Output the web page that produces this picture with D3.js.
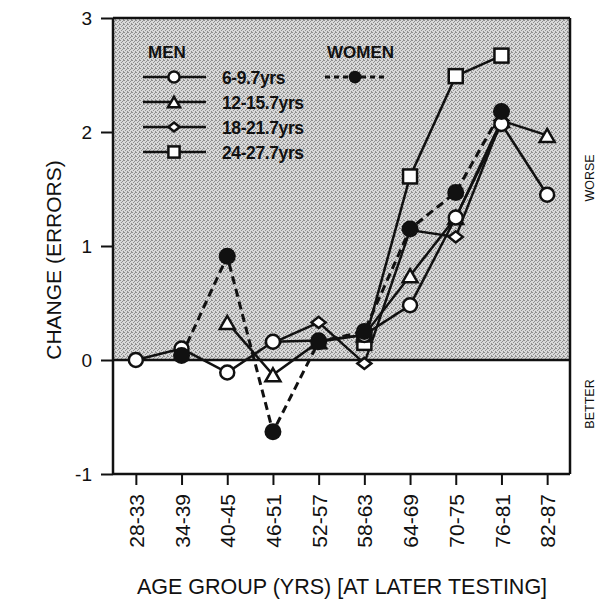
<!DOCTYPE html>
<html>
<head>
<meta charset="utf-8">
<script src="https://cdn.jsdelivr.net/npm/d3@7"></script>
<style>
  body { margin: 0; background: #fff; }
  text { font-family: "Liberation Sans", Arial, Helvetica, sans-serif; fill: #111; }
</style>
</head>
<body>
<div id="chart"></div>
<script>
const width = 599;
const height = 600;

// Data
const ageGroups = ["28-33", "34-39", "40-45", "46-51", "52-57", "58-63", "64-69", "70-75", "76-81", "82-87"];
const men6  = [0, 0.1, -0.11, 0.16, 0.17, 0.22, 0.48, 1.25, 2.07, 1.45];
const men12 = [null, null, 0.33, -0.13, 0.16, 0.22, 0.74, 1.25, 2.1, 1.97];
const men18 = [null, null, null, 0.15, 0.33, -0.03, 1.14, 1.08, 2.1, null];
const men24 = [null, null, null, null, null, 0.15, 1.61, 2.49, 2.67, null];
const women = [null, 0.04, 0.91, -0.63, 0.16, 0.25, 1.15, 1.47, 2.18, null];
const yTicks = [-1, 0, 1, 2, 3];

const seriesNames = ["6-9.7yrs", "12-15.7yrs", "18-21.7yrs", "24-27.7yrs"];
const series = [
    { key: "men24", name: seriesNames[3], values: men24, shape: "square" },
    { key: "men18", name: seriesNames[2], values: men18, shape: "diamond" },
    { key: "men12", name: seriesNames[1], values: men12, shape: "triangle" },
    { key: "men6",  name: seriesNames[0], values: men6,  shape: "circle" },
    { key: "women", name: "WOMEN",        values: women, shape: "dot", dashed: true },
];

const plotLeft = 113, plotRight = 570, plotTop = 18, plotBottom = 474;

const x = d3.scalePoint().domain(ageGroups).range([plotLeft, plotRight]).padding(0.5);
const y = d3.scaleLinear().domain([-1, 3]).range([plotBottom, plotTop]);

const svg = d3.create("svg")
    .attr("width", width)
    .attr("height", height);

// halftone-ish grey pattern for the "worse" region
const defs = svg.append("defs");
const pat = defs.append("pattern")
    .attr("id", "grain")
    .attr("width", 4).attr("height", 4)
    .attr("patternUnits", "userSpaceOnUse");
pat.append("rect").attr("width", 4).attr("height", 4).attr("fill", "#d9d9d9");
[[0, 0], [2, 1], [1, 2], [3, 3], [3, 0]].forEach(([px, py]) => {
    pat.append("rect").attr("x", px).attr("y", py).attr("width", 1).attr("height", 1).attr("fill", "#909090");
});

svg.append("rect")
    .attr("x", plotLeft).attr("y", y(3))
    .attr("width", plotRight - plotLeft).attr("height", y(0) - y(3))
    .attr("fill", "url(#grain)");

// frame
const frame = svg.append("g").attr("stroke", "#111").attr("stroke-width", 2.5).attr("fill", "none");
frame.append("line").attr("x1", plotLeft).attr("x2", plotRight).attr("y1", y(3)).attr("y2", y(3));
frame.append("line").attr("x1", plotRight).attr("x2", plotRight).attr("y1", y(3)).attr("y2", plotBottom);
frame.append("line").attr("x1", plotLeft).attr("x2", plotRight).attr("y1", y(0)).attr("y2", y(0));

// y axis
const yAxis = svg.append("g")
    .attr("transform", `translate(${plotLeft},0)`)
    .call(d3.axisLeft(y).tickValues(yTicks).tickSize(12).tickPadding(9).tickFormat(d => String(d)));
yAxis.select(".domain").attr("stroke", "#111").attr("stroke-width", 2.5)
    .attr("d", `M0,${plotTop}V${plotBottom}`);
yAxis.selectAll(".tick line").attr("stroke", "#111").attr("stroke-width", 2);
yAxis.selectAll(".tick text")
    .attr("font-size", 19)
    .attr("font-family", "'Liberation Sans', Arial, sans-serif")
    .attr("fill", "#111");

// x axis
const xAxis = svg.append("g")
    .attr("transform", `translate(0,${plotBottom})`)
    .call(d3.axisBottom(x).tickSize(11).tickSizeOuter(0));
xAxis.select(".domain").attr("stroke", "#111").attr("stroke-width", 2.5)
    .attr("d", `M${plotLeft},0H${plotRight}`);
xAxis.selectAll(".tick line").attr("stroke", "#111").attr("stroke-width", 2);
xAxis.selectAll(".tick text")
    .attr("font-size", 21)
    .attr("font-family", "'Liberation Sans', Arial, sans-serif")
    .attr("fill", "#111")
    .attr("transform", "rotate(-90)")
    .attr("text-anchor", "end")
    .attr("x", -20)
    .attr("y", 0)
    .attr("dy", "0.36em");

// axis titles
svg.append("text")
    .attr("transform", "translate(61,260) rotate(-90)")
    .attr("text-anchor", "middle")
    .attr("font-size", 21)
    .text("CHANGE (ERRORS)");

svg.append("text")
    .attr("x", 342).attr("y", 594)
    .attr("text-anchor", "middle")
    .attr("font-size", 21.5)
    .text("AGE GROUP (YRS) [AT LATER TESTING]");

svg.append("text")
    .attr("transform", "translate(594,178) rotate(-90)")
    .attr("text-anchor", "middle")
    .attr("font-size", 12.5)
    .text("WORSE");

svg.append("text")
    .attr("transform", "translate(594,404) rotate(-90)")
    .attr("text-anchor", "middle")
    .attr("font-size", 12.5)
    .text("BETTER");

// markers
function drawMarker(g, shape, cx, cy, s) {
    if (shape === "circle") {
        g.append("circle").attr("cx", cx).attr("cy", cy).attr("r", 7 * s)
            .attr("fill", "#fff").attr("stroke", "#111").attr("stroke-width", 2.5);
    } else if (shape === "dot") {
        g.append("circle").attr("cx", cx).attr("cy", cy).attr("r", 8.5 * s)
            .attr("fill", "#111");
    } else if (shape === "square") {
        const h = 7 * s;
        g.append("rect").attr("x", cx - h).attr("y", cy - h).attr("width", 2 * h).attr("height", 2 * h)
            .attr("fill", "#fff").attr("stroke", "#111").attr("stroke-width", 2.5);
    } else if (shape === "triangle") {
        const w = 7.5 * s, hh = 6.5 * s;
        g.append("path").attr("d", `M${cx},${cy - hh}L${cx + w},${cy + hh}L${cx - w},${cy + hh}Z`)
            .attr("fill", "#fff").attr("stroke", "#111").attr("stroke-width", 2.5).attr("stroke-linejoin", "miter");
    } else if (shape === "diamond") {
        const w = 7 * s, hh = 5.5 * s;
        g.append("path").attr("d", `M${cx},${cy - hh}L${cx + w},${cy}L${cx},${cy + hh}L${cx - w},${cy}Z`)
            .attr("fill", "#fff").attr("stroke", "#111").attr("stroke-width", 2.5);
    }
}

const line = d3.line()
    .defined(d => d.v != null)
    .x(d => x(d.age))
    .y(d => y(d.v));

const linesG = svg.append("g");
series.forEach(s => {
    const pts = s.values.map((v, i) => ({ age: ageGroups[i], v }));
    linesG.append("path")
        .attr("d", line(pts))
        .attr("fill", "none")
        .attr("stroke", "#111")
        .attr("stroke-width", s.dashed ? 3 : 2.5)
        .attr("stroke-dasharray", s.dashed ? "8,5" : null);
});

const markersG = svg.append("g");
series.forEach(s => {
    s.values.forEach((v, i) => {
        if (v == null) return;
        drawMarker(markersG, s.shape, x(ageGroups[i]), y(v), 1);
    });
});

// legend
const legend = svg.append("g");
legend.append("text").attr("x", 148).attr("y", 58)
    .attr("font-size", 17).attr("font-weight", "bold").text("MEN");
legend.append("text").attr("x", 327).attr("y", 58)
    .attr("font-size", 17).attr("font-weight", "bold").text("WOMEN");

const legendRows = [
    { name: seriesNames[0], shape: "circle" },
    { name: seriesNames[1], shape: "triangle" },
    { name: seriesNames[2], shape: "diamond" },
    { name: seriesNames[3], shape: "square" },
];
legendRows.forEach((r, i) => {
    const ly = 77 + i * 25;
    legend.append("line").attr("x1", 143).attr("x2", 206).attr("y1", ly).attr("y2", ly)
        .attr("stroke", "#111").attr("stroke-width", 2.5);
    drawMarker(legend, r.shape, 174, ly, 0.8);
    legend.append("text").attr("x", 222).attr("y", ly + 7)
        .attr("font-size", 17.5).attr("font-weight", "bold")
        .attr("letter-spacing", -0.4)
        .text(r.name);
});
legend.append("line").attr("x1", 325).attr("x2", 386).attr("y1", 77).attr("y2", 77)
    .attr("stroke", "#111").attr("stroke-width", 3).attr("stroke-dasharray", "5,4");
drawMarker(legend, "dot", 355, 77, 0.75);

document.querySelector("#chart").append(svg.node());
</script>
</body>
</html>
